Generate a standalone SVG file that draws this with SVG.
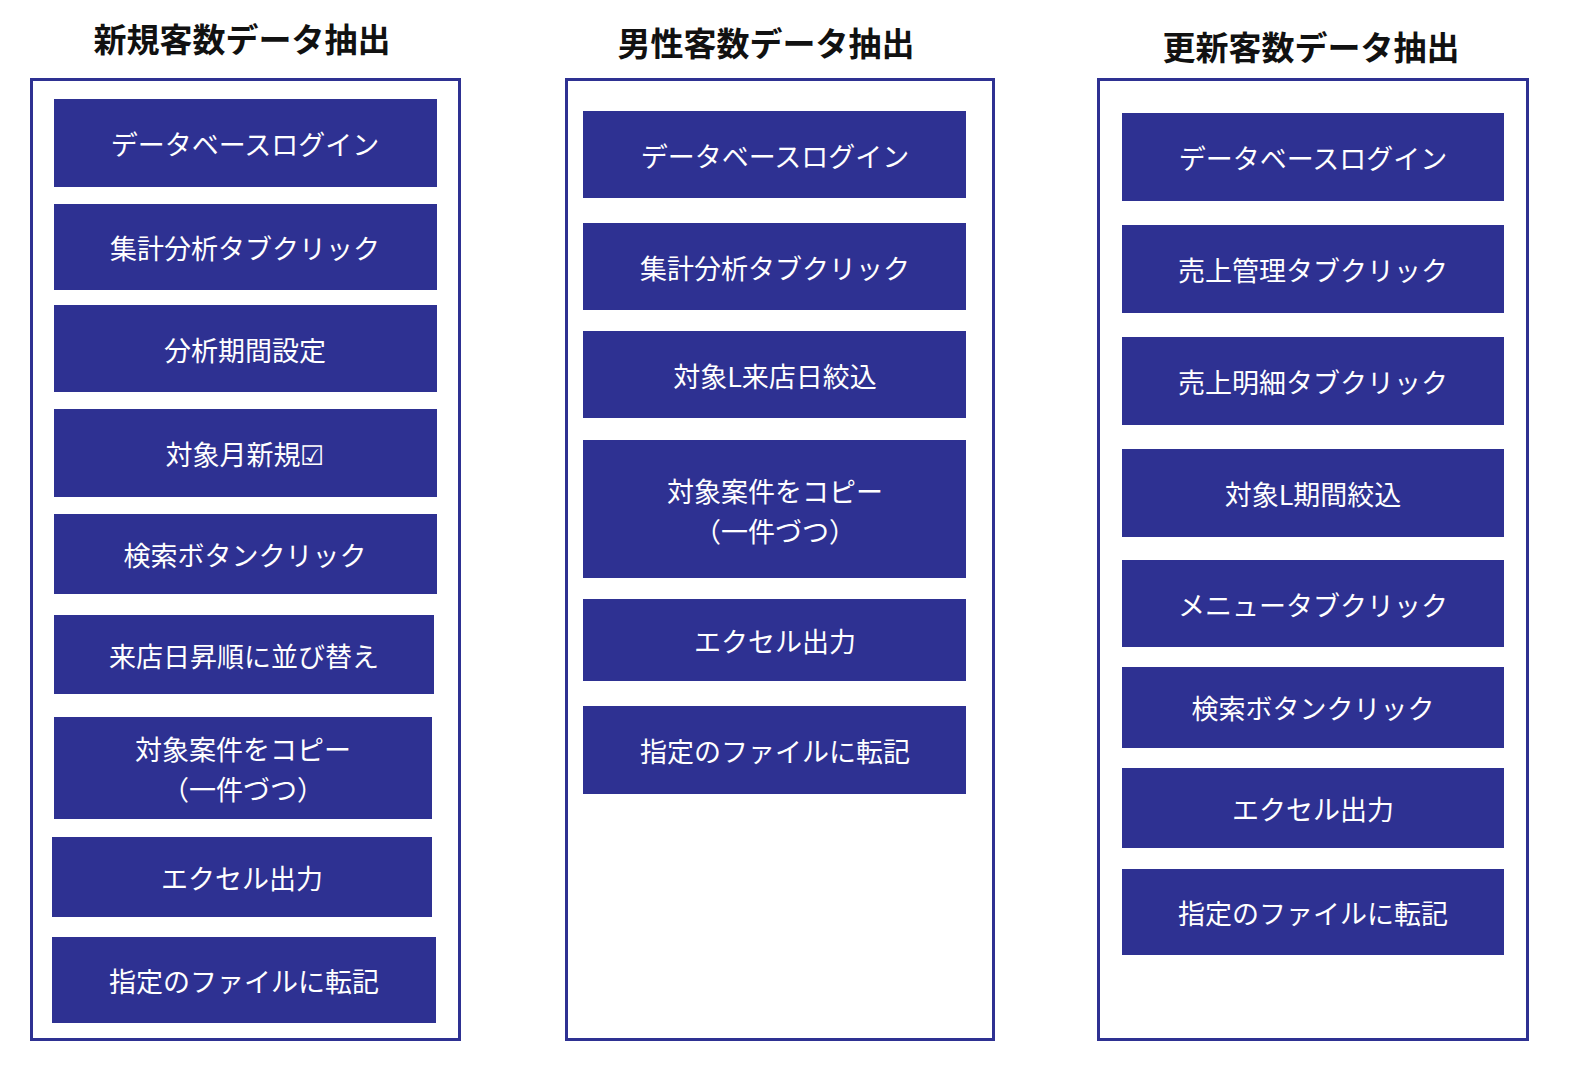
<svg xmlns="http://www.w3.org/2000/svg" width="1588" height="1080" viewBox="0 0 1588 1080">
<style>
.bg{fill:#ffffff}
.frame{fill:none;stroke:#2E3192;stroke-width:3}
.box{fill:#2E3192}
.lbl{fill:#ffffff;font-family:"Noto Sans CJK JP","Noto Sans",sans-serif;font-size:27px;text-anchor:middle;dominant-baseline:central}
.ttl{fill:#111111;font-family:"Noto Sans CJK JP","Noto Sans",sans-serif;font-size:33px;font-weight:bold;text-anchor:middle;dominant-baseline:central}
</style>
<rect class="bg" x="0" y="0" width="1588" height="1080"/>
<g id="col1">
<text class="ttl" x="242" y="38">新規客数データ抽出</text>
<rect class="frame" x="31.5" y="79.5" width="428" height="960"/>
<g id="c1n1"><rect class="box" x="54" y="99" width="383" height="88"/><text class="lbl" x="245" y="143">データベースログイン</text></g>
<g id="c1n2"><rect class="box" x="54" y="204" width="383" height="86"/><text class="lbl" x="245" y="247">集計分析タブクリック</text></g>
<g id="c1n3"><rect class="box" x="54" y="305" width="383" height="87"/><text class="lbl" x="245" y="349">分析期間設定</text></g>
<g id="c1n4"><rect class="box" x="54" y="409" width="383" height="88"/><text class="lbl" x="245" y="453">対象月新規☑</text></g>
<g id="c1n5"><rect class="box" x="54" y="514" width="383" height="80"/><text class="lbl" x="245" y="554">検索ボタンクリック</text></g>
<g id="c1n6"><rect class="box" x="54" y="615" width="380" height="79"/><text class="lbl" x="244" y="655">来店日昇順に並び替え</text></g>
<g id="c1n7"><rect class="box" x="54" y="717" width="378" height="102"/><text class="lbl" x="243" y="748">対象案件をコピー</text><text class="lbl" x="243" y="788">（一件づつ）</text></g>
<g id="c1n8"><rect class="box" x="52" y="837" width="380" height="80"/><text class="lbl" x="242" y="877">エクセル出力</text></g>
<g id="c1n9"><rect class="box" x="52" y="937" width="384" height="86"/><text class="lbl" x="244" y="980">指定のファイルに転記</text></g>
</g>
<g id="col2">
<text class="ttl" x="766" y="42">男性客数データ抽出</text>
<rect class="frame" x="566.5" y="79.5" width="427" height="960"/>
<g id="c2n1"><rect class="box" x="583" y="111" width="383" height="87"/><text class="lbl" x="775" y="155">データベースログイン</text></g>
<g id="c2n2"><rect class="box" x="583" y="223" width="383" height="87"/><text class="lbl" x="775" y="267">集計分析タブクリック</text></g>
<g id="c2n3"><rect class="box" x="583" y="331" width="383" height="87"/><text class="lbl" x="775" y="375">対象L来店日絞込</text></g>
<g id="c2n4"><rect class="box" x="583" y="440" width="383" height="138"/><text class="lbl" x="775" y="490">対象案件をコピー</text><text class="lbl" x="775" y="530">（一件づつ）</text></g>
<g id="c2n5"><rect class="box" x="583" y="599" width="383" height="82"/><text class="lbl" x="775" y="640">エクセル出力</text></g>
<g id="c2n6"><rect class="box" x="583" y="706" width="383" height="88"/><text class="lbl" x="775" y="750">指定のファイルに転記</text></g>
</g>
<g id="col3">
<text class="ttl" x="1311" y="46">更新客数データ抽出</text>
<rect class="frame" x="1098.5" y="79.5" width="429" height="960"/>
<g id="c3n1"><rect class="box" x="1122" y="113" width="382" height="88"/><text class="lbl" x="1313" y="157">データベースログイン</text></g>
<g id="c3n2"><rect class="box" x="1122" y="225" width="382" height="88"/><text class="lbl" x="1313" y="269">売上管理タブクリック</text></g>
<g id="c3n3"><rect class="box" x="1122" y="337" width="382" height="88"/><text class="lbl" x="1313" y="381">売上明細タブクリック</text></g>
<g id="c3n4"><rect class="box" x="1122" y="449" width="382" height="88"/><text class="lbl" x="1313" y="493">対象L期間絞込</text></g>
<g id="c3n5"><rect class="box" x="1122" y="560" width="382" height="87"/><text class="lbl" x="1313" y="604">メニュータブクリック</text></g>
<g id="c3n6"><rect class="box" x="1122" y="667" width="382" height="81"/><text class="lbl" x="1313" y="707">検索ボタンクリック</text></g>
<g id="c3n7"><rect class="box" x="1122" y="768" width="382" height="80"/><text class="lbl" x="1313" y="808">エクセル出力</text></g>
<g id="c3n8"><rect class="box" x="1122" y="869" width="382" height="86"/><text class="lbl" x="1313" y="912">指定のファイルに転記</text></g>
</g>
<g id="connectors"/>
</svg>
